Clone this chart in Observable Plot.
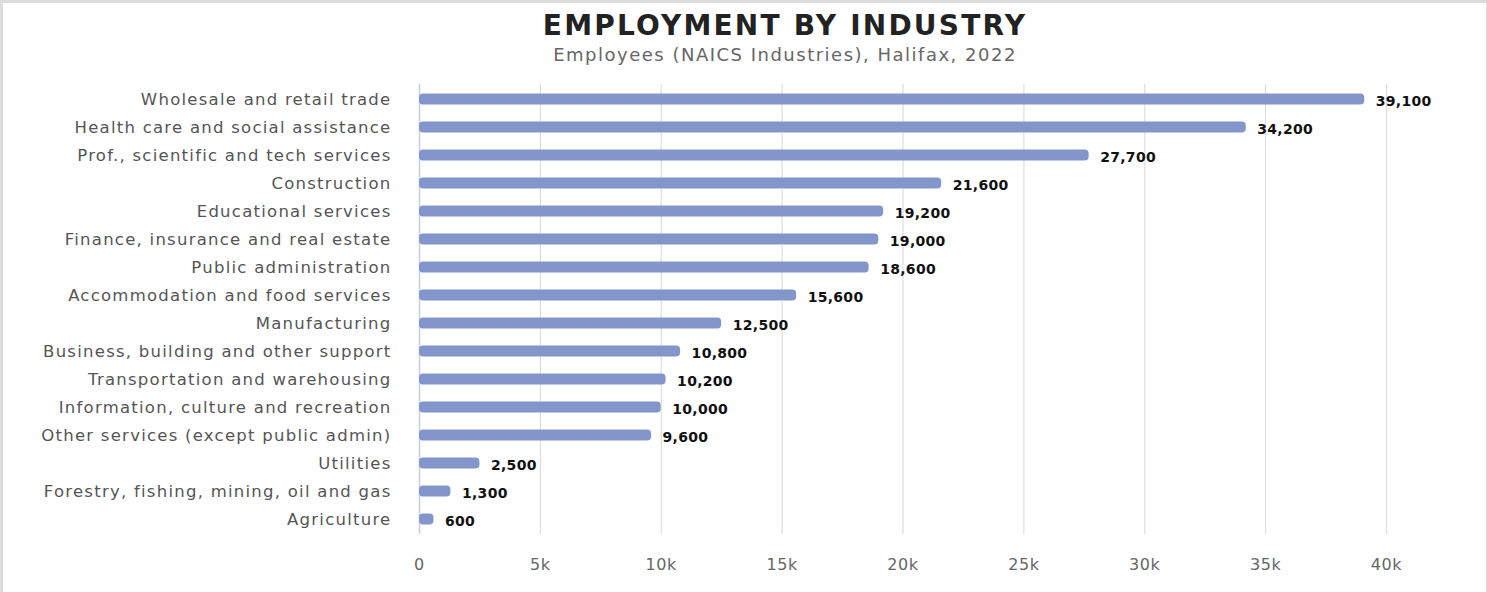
<!DOCTYPE html>
<html><head><meta charset="utf-8">
<script src="https://cdn.jsdelivr.net/npm/d3@7"></script>
<script src="https://cdn.jsdelivr.net/npm/@observablehq/plot@0.6"></script>
<style>
html,body{margin:0;padding:0;background:#fff;}
#wrap{position:relative;width:1487px;height:592px;overflow:hidden;font-family:"DejaVu Sans",sans-serif;}
#border{position:absolute;left:0;top:0;width:1487px;height:592px;box-sizing:border-box;border-top:3px solid #dcdcdc;border-left:3px solid #dcdcdc;border-right:1px solid #dcdcdc;pointer-events:none;}
#title{position:absolute;left:0;width:1570px;top:9px;text-align:center;font-size:28px;font-weight:bold;color:#222;letter-spacing:2.2px;}
#subtitle{position:absolute;left:0;width:1570px;top:44px;text-align:center;font-size:18px;color:#666;letter-spacing:1.5px;}
#chart{position:absolute;left:0;top:75px;}
#chart g[aria-label="y-axis tick label"] text{letter-spacing:1.25px;}
#chart g[aria-label="x-axis tick label"] text{letter-spacing:0.6px;}
#chart g[aria-label="text"] text{letter-spacing:0.3px;}
</style></head>
<body>
<div id="wrap">
  <div id="title">EMPLOYMENT BY INDUSTRY</div>
  <div id="subtitle">Employees (NAICS Industries), Halifax, 2022</div>
  <div id="chart"></div>
  <div id="border"></div>
</div>
<script>
const industries = [
  "Wholesale and retail trade",
  "Health care and social assistance",
  "Prof., scientific and tech services",
  "Construction",
  "Educational services",
  "Finance, insurance and real estate",
  "Public administration",
  "Accommodation and food services",
  "Manufacturing",
  "Business, building and other support",
  "Transportation and warehousing",
  "Information, culture and recreation",
  "Other services (except public admin)",
  "Utilities",
  "Forestry, fishing, mining, oil and gas",
  "Agriculture"
];
const employees = [39100, 34200, 27700, 21600, 19200, 19000, 18600, 15600, 12500, 10800, 10200, 10000, 9600, 2500, 1300, 600];
const xTicks = [0, 5000, 10000, 15000, 20000, 25000, 30000, 35000, 40000];
const xTickLabels = ["0", "5k", "10k", "15k", "20k", "25k", "30k", "35k", "40k"];

const data = industries.map((name, i) => ({name, value: employees[i]}));
const fmt = d3.format(",");
const step = 450 / industries.length;
const inset = (step - 11) / 2;

const chart = Plot.plot({
  width: 1487,
  height: 517,
  marginTop: 9,
  marginBottom: 58,
  marginLeft: 419,
  marginRight: 101,
  style: {fontFamily: "DejaVu Sans, sans-serif", background: "transparent"},
  x: {domain: [0, 40000]},
  y: {domain: industries, padding: 0},
  marks: [
    Plot.gridX(xTicks, {stroke: "#dedede", strokeOpacity: 1, strokeWidth: 1.2}),
    Plot.ruleX([0], {stroke: "#c9d0e4", strokeWidth: 1.5}),
    Plot.barX(data, {x: "value", y: "name", fill: "#8396cc", insetTop: inset, insetBottom: inset, rx: 4}),
    Plot.text(data, {x: "value", y: "name", text: d => fmt(d.value), dx: 11, dy: 2, textAnchor: "start", fontWeight: "bold", fontSize: 14, fill: "#111"}),
    Plot.axisY({tickSize: 0, tickPadding: 28, fontSize: 16.5, color: "#555", label: null}),
    Plot.axisX({ticks: xTicks, tickFormat: (d) => xTickLabels[xTicks.indexOf(d)], tickSize: 0, tickPadding: 24, fontSize: 16, color: "#666", label: null})
  ]
});
document.getElementById("chart").appendChild(chart);
</script>
</body></html>
